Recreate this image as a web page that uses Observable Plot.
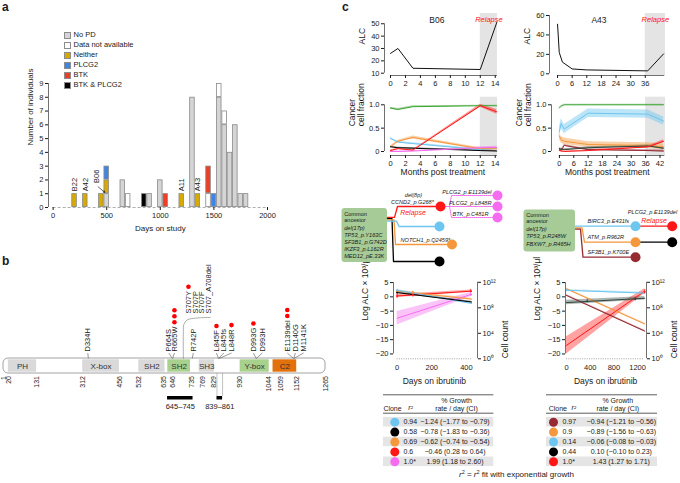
<!DOCTYPE html>
<html>
<head>
<meta charset="utf-8">
<script src="https://cdn.jsdelivr.net/npm/d3@7"></script>
<script src="https://cdn.jsdelivr.net/npm/@observablehq/plot@0.6"></script>
<style>
html,body{margin:0;padding:0;background:#fff;}
#root{position:relative;width:680px;height:483px;overflow:hidden;background:#fff;font-family:"Liberation Sans",Arial,Helvetica,sans-serif;color:#1a1a1a;}
.lab{position:absolute;font-weight:bold;font-size:12px;line-height:13px;}
.legend{position:absolute;font-size:7.5px;line-height:10px;}
.legend .row{display:flex;align-items:center;height:10px;white-space:nowrap;}
.legend .sw{display:inline-block;width:7px;height:7px;border:0.8px solid #8c8c8c;margin-right:3px;box-sizing:border-box;}
.cap{position:absolute;font-size:8px;white-space:nowrap;line-height:10px;}
.cap sup{font-size:5.5px;line-height:0;vertical-align:3px;}
</style>
</head>
<body>
<div id="root"></div>
<script>
// ======================= DATA =======================
// ---- Panel a : histogram of days on study (50-day bins) ----
const categories = ["No PD","Data not available","Neither","PLCG2","BTK","BTK & PLCG2"];
const categoryColors = ["#d5d5d5","#ffffff","#d8aa00","#3d86e8","#ee3f26","#000000"];
const noPD = [[500,1],[650,2],[900,1],[1000,2],[1300,8],[1550,8],[1600,6],[1650,4],[1700,6],[1750,1],[1800,1]];
const dataNotAvailable = [[700,1],[1450,1],[1550,1],[1600,1]];
const neither = [[200,1],[300,1],[450,1],[500,1],[1200,1],[1350,1]];
const plcg2Only = [[500,1],[1500,1]];
const btkOnly = [[1050,1],[1450,2]];
const btkAndPlcg2 = [[850,1]];
const binWidth = 50;
const daysTicks = [0,500,1000,1500,2000];
const countTicks = [0,1,2,3,4,5,6,7,8,9];
const patientNames = ["B22","A42","B06","A11","A43"];
const patientDays = [200,300,405,1200,1350];
const patientCounts = [1,1,1.6,1,1];

// ---- Panel b : PLCG2 protein ----
const proteinLength = 1265;
const domainNames = ["PH","X-box","SH2","SH2","SH3","Y-box","C2"];
const domainStarts = [20,312,532,646,769,930,1059];
const domainEnds = [131,456,635,735,829,1044,1152];
const domainKinds = ["plain","plain","plain","green","plain","green","orange"];
const boundaryTicks = [1,20,131,312,456,532,635,646,735,769,829,930,1044,1059,1152,1265];
const mutationNames = ["D334H","P664S","R665W","R742P","L845F","L845fs","L848R","D993G","D993H","E1139del","D1140G","M1141K"];
const mutationPositions = [334,664,665,742,845,845,848,993,993,1139,1140,1141];
const mutationPatients = [0,0,3,0,1,0,1,1,0,2,0,0];
const s707Names = ["S707Y","S707P","S707F","S707_A708del"];
const s707Patients = [1,0,0,0];
const regionStarts = [645,839];
const regionEnds = [745,861];

// ---- Panel c : ALC ----
const b06AlcMonths = [0,1,3,12,14.2];
const b06Alc = [26,30,14,13,51];
const a43AlcMonths = [0,0.7,2,6,12,37,43.5];
const a43Alc = [51,22,12,5,4,3,20.5];

// ---- Panel c : cancer cell fractions ----
const b06CcfMonths = [0,1,3,12,14.2];
const b06CcfClones = ["green","blue","orange","black","magenta","red"];
const b06CcfValues = [
  [0.93,0.90,0.96,0.98,0.98],
  [0.28,0.20,0.17,0.04,0.07],
  [0.10,0.22,0.30,0.06,0.06],
  [0.10,0.08,0.07,0.02,0.01],
  [0.00,0.00,0.01,0.08,0.09],
  [0.02,0.06,0.03,0.98,0.85]];
const b06CcfCI = [
  [0.02,0.02,0.02,0.01,0.01],
  [0.02,0.02,0.02,0.02,0.02],
  [0.02,0.02,0.03,0.02,0.02],
  [0.01,0.01,0.01,0.01,0.01],
  [0.01,0.01,0.01,0.02,0.02],
  [0.01,0.01,0.01,0.03,0.05]];
const a43CcfMonths = [0,0.7,2,12,37,43.5];
const a43CcfClones = ["green","blue","orange","darkred","slate","red"];
const a43CcfValues = [
  [0.93,0.97,1.00,1.00,1.00,1.00],
  [0.42,0.60,0.48,0.82,0.80,0.65],
  [0.33,0.25,0.22,0.15,0.13,0.10],
  [0.05,0.02,0.13,0.04,0.02,0.01],
  [0.06,0.05,0.04,0.08,0.12,0.07],
  [0.02,0.01,0.00,0.02,0.10,0.22]];
const a43CcfCI = [
  [0.02,0.01,0.01,0.01,0.01,0.01],
  [0.10,0.10,0.10,0.09,0.09,0.09],
  [0.07,0.07,0.07,0.06,0.06,0.06],
  [0.02,0.02,0.02,0.02,0.02,0.02],
  [0.02,0.02,0.02,0.02,0.02,0.02],
  [0.01,0.01,0.01,0.01,0.02,0.03]];

// ---- Panel c : exponential fits (log ALC) ----
const b06FitDays = [0,430];
const b06FitClones = ["magenta","red","orange","blue","black"];
const b06FitStart = [-7.5,0.3,2.0,2.3,1.5];
const b06FitEnd = [0.9,2.0,-0.8,-2.3,-1.8];
const b06FitCIStart = [2.4,0.5,0.3,0.3,0.3];
const b06FitCIEnd = [0.7,0.4,0.3,0.3,0.3];
const b06ObsClones = ["red","red","red","orange","orange","blue","black","magenta"];
const b06ObsDays = [0,91,425,0,91,0,0,425];
const b06ObsValues = [0.3,0.8,2.0,2.0,1.5,2.3,1.5,0.8];
const b06ObsErr = [0.9,0.9,0.6,0.5,0.5,0.4,0.4,0.5];
const a43FitDays = [0,1320];
const a43FitClones = ["red","darkred","orange","blue","slate"];
const a43FitStart = [-17,0.5,2.8,2.3,-2.0];
const a43FitEnd = [2.0,-12,-9.5,1.3,-0.5];
const a43FitCIStart = [3.0,0.3,0.3,0.3,0.8];
const a43FitCIEnd = [0.8,0.3,0.3,0.3,0.6];
const a43ObsClones = ["blue","slate","slate","red"];
const a43ObsDays = [0,350,1160,1320];
const a43ObsValues = [2.3,-1.5,-0.8,1.8];
const a43ObsErr = [0.4,0.6,0.6,0.8];

// ---- Panel c : tables ----
const b06TableClones = ["blue","black","orange","red","magenta"];
const b06TableR2 = ["0.94","0.58","0.69","0.6","1.0*"];
const b06TableGrowth = ["−1.24 (−1.77 to −0.79)","−0.78 (−1.83 to −0.36)","−0.62 (−0.74 to −0.54)","−0.46 (0.28 to 0.64)","1.99 (1.18 to 2.60)"];
const a43TableClones = ["darkred","orange","blue","black","red"];
const a43TableR2 = ["0.97","0.9","0.14","0.44","1.0*"];
const a43TableGrowth = ["−0.94 (−1.21 to −0.56)","−0.89 (−1.56 to −0.63)","−0.06 (−0.08 to −0.03)","0.10 (−0.10 to 0.23)","1.43 (1.27 to 1.71)"];

// ---- Panel c : phylogenies ----
const b06AncestorLines = ["Common","ancestor","del(17p)","TP53_p.Y163C","SF3B1_p.G742D","IKZF3_p.L162R","MED12_pE.33K"];
const a43AncestorLines = ["Common","ancestor","del(17p)","TP53_p.R248W","FBXW7_p.R465H"];

// ======================= STYLE / LAYOUT =======================
const FONT = '"Liberation Sans", Arial, Helvetica, sans-serif';
const COL = {blue:"#6dc6ef", black:"#000000", orange:"#f5973c", red:"#ff1616", magenta:"#f66cf0",
  green:"#3fa535", darkred:"#962a33", slate:"#2f463c"};
const AX = "#333";
const intFmt = d3.format("d");
const root = document.getElementById("root");
const baseStyle = {fontFamily: FONT, fontSize: "7.5px", background: "transparent", overflow: "visible", color: "#1a1a1a"};
function place(node, left, top){ node.style.position="absolute"; node.style.left=left+"px"; node.style.top=top+"px"; root.appendChild(node); return node; }
function htmlEl(cls, inner, left, top){ const e=document.createElement("div"); e.className=cls; e.innerHTML=inner; return place(e,left,top); }
function pagePlot(x0, y0, w, h, marks){
  const p = Plot.plot({width:w, height:h, margin:0, style:baseStyle,
    x:{domain:[x0,x0+w], range:[0,w], axis:null}, y:{domain:[y0,y0+h], range:[0,h], axis:null},
    color:{type:"identity"}, marks});
  return place(p, x0, y0);
}

// panel letters
htmlEl("lab","a",2,1); htmlEl("lab","b",2,255); htmlEl("lab","c",342,1);

// ======================= PANEL A =======================
{
  const rows = [];
  const top = new Map();
  [noPD,dataNotAvailable,neither,plcg2Only,btkOnly,btkAndPlcg2].forEach((arr,i)=>arr.forEach(([day,n])=>{
    const y1 = top.get(day)||0; rows.push({day, cat:categories[i], y1, y2:y1+n}); top.set(day,y1+n);
  }));
  const labels = patientNames.map((name,i)=>({name, day:patientDays[i], count:patientCounts[i]}));
  const xMin = -43;
  const p = Plot.plot({width:340, height:240, marginLeft:48, marginRight:73, marginTop:83, marginBottom:33,
    style:baseStyle, x:{domain:[xMin,2000]}, y:{domain:[0,9]},
    color:{domain:categories, range:categoryColors},
    marks:[
      Plot.ruleY([0],{x1:0,x2:2000,stroke:"#999",strokeDasharray:"3,2",strokeWidth:0.8}),
      Plot.rect(rows,{x1:d=>d.day-binWidth/2,x2:d=>d.day+binWidth/2,y1:"y1",y2:"y2",fill:"cat",stroke:"#8a8a8a",strokeWidth:0.8,inset:0.4}),
      Plot.ruleX([xMin],{y1:countTicks[0],y2:countTicks[countTicks.length-1],stroke:AX,strokeWidth:0.7}),
      Plot.axisY({ticks:countTicks,tickSize:3,tickPadding:2,label:null}),
      Plot.axisX({ticks:daysTicks,tickSize:3,tickPadding:2,label:null,tickFormat:intFmt}),
      Plot.text(labels,{x:"day",y:"count",text:"name",rotate:-90,textAnchor:"start",dy:-2.5,fontSize:7.5}),
      Plot.arrow([{x1:420,y1:1.5,x2:482,y2:1.1}],{x1:"x1",y1:"y1",x2:"x2",y2:"y2",stroke:"#222",strokeWidth:0.7,headLength:3.5}),
      Plot.text(["Days on study"],{x:1000,frameAnchor:"bottom",dy:23,fontSize:8}),
      Plot.text(["Number of individuals"],{frameAnchor:"left",rotate:-90,dx:-18,fontSize:8})
    ]});
  place(p,0,0);
  const leg = categories.map((c,i)=>`<div class="row"><span class="sw" style="background:${categoryColors[i]}"></span>${c}</div>`).join("");
  htmlEl("legend",leg,63.5,30);
}

// ======================= PANEL B =======================
{
  const pxPerAA = 322/1264;
  const barTop = 358, barBottom = 373;
  const kindColor = {plain:"#d9d9d9", green:"#a9d18e", orange:"#e2710c"};
  const doms = domainNames.map((name,i)=>({name,start:domainStarts[i],end:domainEnds[i],kind:domainKinds[i]}));
  const tickShiftPx = {635:-1.5,646:4.5,735:1.5,769:4,829:-1,1059:8};
  const labelAt = {D334H:332,P664S:650,R665W:672,R742P:746,L845F:837,L845fs:866,L848R:896,D993G:982,D993H:1017,
    E1139del:1115,D1140G:1147,M1141K:1179,S707Y:727,S707P:755,S707F:780,S707_A708del:806};
  const ctx = document.createElement("canvas").getContext("2d");
  ctx.font = '7.5px "Liberation Sans"';
  const muts = mutationNames.map((name,i)=>({name,pos:mutationPositions[i],n:mutationPatients[i],at:labelAt[name],base:351}));
  const s707 = s707Names.map((name,i)=>({name,pos:707,n:s707Patients[i],at:labelAt[name],base:313}));
  const dots = [];
  [...muts,...s707].forEach(m=>{ const len = ctx.measureText(m.name).width; for(let k=0;k<m.n;k++) dots.push({x:m.at,y:m.base-len-4.3-k*6}); });
  const regions = regionStarts.map((s,i)=>({start:s,end:regionEnds[i]}));
  const bracket = [[707,358],[707,331],[709,324],[722,319.5],[760,317.5],[812,317]];
  const p = Plot.plot({width:340,height:160,margin:0,style:baseStyle,
    x:{domain:[1,proteinLength],range:[3,325],axis:null}, y:{domain:[255,415],range:[0,160],axis:null},
    color:{type:"identity"},
    marks:[
      Plot.rect([proteinLength],{x1:1,x2:d=>d,y1:barTop,y2:barBottom,fill:"white",rx:5}),
      Plot.rect(doms,{x1:"start",x2:"end",y1:barTop+1.3,y2:barBottom-1.3,fill:d=>kindColor[d.kind]}),
      Plot.rect([proteinLength],{x1:1,x2:d=>d,y1:barTop,y2:barBottom,fill:"none",stroke:"#8a8a8a",strokeWidth:0.8,rx:5}),
      Plot.text(doms,{x:d=>(d.start+d.end)/2,y:(barTop+barBottom)/2,text:"name",fontSize:8,fill:"#333"}),
      Plot.text(boundaryTicks,{x:d=>d+(tickShiftPx[d]||0)/pxPerAA,y:barBottom+2.5,text:d=>String(d),rotate:-90,textAnchor:"end",fontSize:7}),
      Plot.link(muts,{x1:"pos",y1:barTop,x2:"at",y2:352.5,stroke:"#555",strokeWidth:0.6}),
      Plot.text(muts,{x:"at",y:"base",text:"name",rotate:-90,textAnchor:"start",fontSize:7.5}),
      Plot.text(s707,{x:"at",y:"base",text:"name",rotate:-90,textAnchor:"start",fontSize:7.5}),
      Plot.line(bracket,{x:d=>d[0],y:d=>d[1],stroke:"#777",strokeWidth:0.6,curve:"catmull-rom"}),
      Plot.dot(dots,{x:"x",y:"y",r:2.3,fill:"#ff0000"}),
      Plot.ruleX([regionStarts[1],regionEnds[1]],{y1:barBottom,y2:396,stroke:"#999",strokeWidth:0.6}),
      Plot.rect(regions,{x1:"start",x2:"end",y1:396,y2:399.5,fill:"black"}),
      Plot.text(regions,{x:d=>(d.start+d.end)/2,y:406.5,text:d=>`${d.start}–${d.end}`,fontSize:7.5})
    ]});
  place(p,0,255);
}

// ======================= PANEL C : time charts =======================
function axesMarks(o){
  return [
    Plot.ruleX([o.xDomain[0]],{y1:o.yTicks[0],y2:o.yTicks[o.yTicks.length-1],stroke:AX,strokeWidth:0.7}),
    Plot.ruleY([o.yDomain[0]],{x1:o.xTicks[0],x2:o.xLineEnd,stroke:AX,strokeWidth:0.7}),
    Plot.axisY({ticks:o.yTicks,tickSize:3,tickPadding:2,label:null,tickFormat:o.yFmt}),
    Plot.axisX({ticks:o.xTicks,tickSize:3,tickPadding:2,label:null,tickFormat:intFmt})
  ];
}
function alcChart(o){
  const pts = o.months.map((m,i)=>({m,v:o.values[i]}));
  const p = Plot.plot({width:170,height:100,marginLeft:o.mL,marginRight:o.mR,marginTop:13,marginBottom:25,style:baseStyle,
    x:{domain:o.xDomain}, y:{domain:o.yDomain}, color:{type:"identity"},
    marks:[
      Plot.rect([o.relapse],{x1:d=>d,x2:o.xDomain[1],fill:"#e4e4e4"}),
      Plot.line(pts,{x:"m",y:"v",stroke:"#111",strokeWidth:1}),
      ...axesMarks(o),
      Plot.text(["Relapse"],{x:(o.relapse+o.xDomain[1])/2,frameAnchor:"top",dy:3.5,fill:COL.red,fontStyle:"italic",fontSize:7.5}),
      Plot.text([o.title],{x:o.titleX,frameAnchor:"top",dy:3.5,fontSize:8.5}),
      Plot.text(["ALC"],{frameAnchor:"left",rotate:-90,dx:o.labDx,fontSize:8.5})
    ]});
  place(p,o.left,0);
}
function ccfChart(o){
  const rows = [];
  o.clones.forEach((c,s)=>o.values[s].forEach((v,i)=>rows.push({c,m:o.months[i],v,lo:v-o.ci[s][i],hi:v+o.ci[s][i]})));
  const yDomain = [-0.0857,1.163];
  const p = Plot.plot({width:170,height:95,marginLeft:o.mL,marginRight:o.mR,marginTop:11.7,marginBottom:25,style:baseStyle,
    x:{domain:o.xDomain}, y:{domain:yDomain}, color:{type:"identity"},
    marks:[
      Plot.rect([o.relapse],{x1:d=>d,x2:o.xDomain[1],fill:"#e4e4e4"}),
      Plot.areaY(rows,{x:"m",y1:"lo",y2:"hi",z:"c",fill:d=>COL[d.c],fillOpacity:0.45}),
      Plot.line(rows,{x:"m",y:"v",z:"c",stroke:d=>COL[d.c],strokeWidth:1}),
      ...axesMarks({...o,yDomain,yTicks:[0,0.5,1],yFmt:d=>d===0?"0":d.toFixed(1)}),
      Plot.text(["Months post treatment"],{x:o.labelX,frameAnchor:"bottom",dy:19.5,fontSize:8.5}),
      Plot.text(["Cancer\ncell fraction"],{frameAnchor:"left",rotate:-90,dx:o.labDx,fontSize:8.5,lineHeight:1.1})
    ]});
  place(p,o.left,85);
}
alcChart({left:340,mL:44,mR:13,xDomain:[-0.8,14.3],yDomain:[8.14,58.3],xTicks:[0,2,4,6,8,10,12,14],xLineEnd:14.3,
  yTicks:[10,20,30,40,50],relapse:12,months:b06AlcMonths,values:b06Alc,title:"B06",titleX:6.2,labDx:-22});
alcChart({left:510,mL:39,mR:15,xDomain:[-3.3,44.3],yDomain:[-1.75,62.06],xTicks:[0,6,12,18,24,30,36],xLineEnd:44,
  yTicks:[0,20,40,60],relapse:36,months:a43AlcMonths,values:a43Alc,title:"A43",titleX:17,labDx:-22});
ccfChart({left:340,mL:44,mR:13,xDomain:[-0.8,14.3],xTicks:[0,2,4,6,8,10,12,14],xLineEnd:14.3,relapse:12,
  months:b06CcfMonths,clones:b06CcfClones,values:b06CcfValues,ci:b06CcfCI,labelX:7,labDx:-28});
ccfChart({left:510,mL:41,mR:15,xDomain:[-3.3,44.3],xTicks:[0,6,12,18,24,30,36,42],xLineEnd:44,relapse:36,
  months:a43CcfMonths,clones:a43CcfClones,values:a43CcfValues,ci:a43CcfCI,labelX:20,labDx:-28});

// ======================= PANEL C : log ALC fits =======================
function logAlcChart(o){
  const yDom = [-21.7,5.1];
  const rows = o.clones.flatMap((c,i)=>[
    {c,day:o.days[0],v:o.start[i],lo:o.start[i]-o.ciS[i],hi:o.start[i]+o.ciS[i]},
    {c,day:o.days[1],v:o.end[i],lo:o.end[i]-o.ciE[i],hi:o.end[i]+o.ciE[i]}]);
  const obs = o.obsClones.map((c,i)=>({c,day:o.obsDays[i],v:o.obsValues[i],e:o.obsErr[i]}));
  const sup = {0:"⁰",4:"⁴",8:"⁸",12:"¹²"};
  const toLeft = k => yDom[0]+k/12*(yDom[1]-yDom[0]);
  const toK = v => Math.round((v-yDom[0])/(yDom[1]-yDom[0])*12);
  const p = Plot.plot({width:170,height:120,marginLeft:o.mL,marginRight:o.mR,marginTop:11.8,marginBottom:31.7,style:baseStyle,
    x:{domain:o.xDomain}, y:{domain:yDom}, color:{type:"identity"},
    marks:[
      Plot.ruleY([yDom[0]],{x1:0,x2:o.days[1],stroke:"#9a9a9a",strokeDasharray:"1,1.3",strokeWidth:0.9}),
      Plot.areaY(rows,{x:"day",y1:"lo",y2:"hi",z:"c",fill:d=>COL[d.c],fillOpacity:0.4}),
      Plot.line(rows,{x:"day",y:"v",z:"c",stroke:d=>COL[d.c],strokeWidth:1}),
      Plot.ruleX(obs,{x:"day",y1:d=>d.v-d.e,y2:d=>d.v+d.e,stroke:d=>COL[d.c],strokeWidth:0.8}),
      Plot.dot(obs,{x:"day",y:"v",r:0.9,fill:d=>COL[d.c]}),
      Plot.ruleX([o.xDomain[0]],{y1:-20,y2:5,stroke:AX,strokeWidth:0.7}),
      Plot.ruleX([o.xDomain[1]],{y1:yDom[0],y2:yDom[1],stroke:AX,strokeWidth:0.7}),
      Plot.axisY({ticks:[5,0,-5,-10,-15,-20],tickSize:3,tickPadding:2,label:null}),
      Plot.axisY([0,4,8,12].map(toLeft),{anchor:"right",tickSize:3,tickPadding:2,label:null,tickFormat:d=>"10"+sup[toK(d)]}),
      Plot.axisX({ticks:o.xTicks,tickSize:0,tickPadding:6,label:null,tickFormat:intFmt}),
      Plot.text(["Days on ibrutinib"],{x:o.labelX,frameAnchor:"bottom",dy:25,fontSize:8.5}),
      Plot.text(["Log ALC × 10³/μl"],{frameAnchor:"left",rotate:-90,dx:-28,fontSize:8.5}),
      Plot.text(["Cell count"],{frameAnchor:"right",rotate:-90,dx:28,fontSize:8.5})
    ]});
  place(p,o.left,270);
}
logAlcChart({left:340,mL:53,mR:33,xDomain:[-21,464],xTicks:[0,200,400],labelX:215,days:b06FitDays,clones:b06FitClones,
  start:b06FitStart,end:b06FitEnd,ciS:b06FitCIStart,ciE:b06FitCIEnd,
  obsClones:b06ObsClones,obsDays:b06ObsDays,obsValues:b06ObsValues,obsErr:b06ObsErr});
logAlcChart({left:510,mL:55,mR:34,xDomain:[-17,1350],xTicks:[0,400,800,1200],labelX:660,days:a43FitDays,clones:a43FitClones,
  start:a43FitStart,end:a43FitEnd,ciS:a43FitCIStart,ciE:a43FitCIEnd,
  obsClones:a43ObsClones,obsDays:a43ObsDays,obsValues:a43ObsValues,obsErr:a43ObsErr});

// ======================= PANEL C : phylogenies =======================
function ancestorBox(box, lines, lineYs){
  const rows = lines.map((t,i)=>({t,y:lineYs[i],it:i>=2}));
  return [
    Plot.rect([box],{x1:d=>d[0],x2:d=>d[1],y1:d=>d[2],y2:d=>d[3],fill:"#a6cb96",rx:3}),
    Plot.text(rows.filter(d=>!d.it),{x:box[0]+2.2,y:"y",text:"t",textAnchor:"start",fontSize:5.6}),
    Plot.text(rows.filter(d=>d.it),{x:box[0]+2.2,y:"y",text:"t",textAnchor:"start",fontSize:5.6,fontStyle:"italic"})
  ];
}
function edgeRows(paths){ return paths.flatMap((p,k)=>p.pts.map(([x,y])=>({k,x,y,c:p.c}))); }
{ // B06 tree
  const edges = edgeRows([
    {c:"red",pts:[[387,216.8],[394,216.8],[397,206],[435,206]]},
    {c:"black",pts:[[387,218.2],[391.5,218.2],[393,261],[434,261]]},
    {c:"orange",pts:[[387,219.4],[393.5,219.4],[395,244],[447,244]]},
    {c:"blue",pts:[[387,220.6],[396,220.6],[398.5,226],[434,226]]}]);
  const dotted = edgeRows([
    {c:"magenta",pts:[[445,206],[449,206],[451,195],[492,195]]},
    {c:"magenta",pts:[[445,206],[492,206]]},
    {c:"magenta",pts:[[445,206],[449,206],[451,217],[492,217]]}]);
  const nodes = [{x:440,y:206,c:"red"},{x:439,y:226,c:"blue"},{x:451.5,y:244,c:"orange"},{x:439,y:261,c:"black"},
    {x:497,y:195,c:"magenta"},{x:497,y:206,c:"magenta"},{x:497,y:217,c:"magenta"}];
  const labs = [{t:"CCND2_p.G268*",x:390.5,y:201.5,a:"start"},{t:"PLCG2_p.E1139del",x:491,y:191.3,a:"end"},
    {t:"PLCG2_p.L848R",x:491,y:202.3,a:"end"},{t:"BTK_p.C481R",x:488,y:213.3,a:"end"},{t:"NOTCH1_p.Q2459*",x:400,y:240,a:"start"}];
  pagePlot(338,186,172,80,[
    ...ancestorBox([341.5,387,208,262],b06AncestorLines,[213.6,219.3,227.6,234.7,241.8,248.8,255.8]),
    Plot.line(edges,{x:"x",y:"y",z:"k",stroke:d=>COL[d.c],strokeWidth:1.3}),
    Plot.line(dotted,{x:"x",y:"y",z:"k",stroke:COL.magenta,strokeWidth:1,strokeDasharray:"1,1"}),
    Plot.dot(nodes,{x:"x",y:"y",r:5,fill:d=>COL[d.c]}),
    Plot.text(labs.filter(d=>d.a==="start"),{x:"x",y:"y",text:"t",textAnchor:"start",fontSize:5.6,fontStyle:"italic"}),
    Plot.text(labs.filter(d=>d.a==="end"),{x:"x",y:"y",text:"t",textAnchor:"end",fontSize:5.6,fontStyle:"italic"}),
    Plot.text(["del(8p)"],{x:413,y:195,fontSize:5.6,fontStyle:"italic"}),
    Plot.text(["Relapse"],{x:412.5,y:212,fontSize:7,fontStyle:"italic",fill:COL.red})
  ]);
}
{ // A43 tree
  const edges = edgeRows([
    {c:"blue",pts:[[575,225.7],[630,225.7]]},
    {c:"red",pts:[[640,225.7],[667,225.7]]},
    {c:"orange",pts:[[575,227.3],[581.5,227.3],[584,241.7],[630,241.7]]},
    {c:"darkred",pts:[[575,228.6],[580,228.6],[582.5,256.7],[630,256.7]]},
    {c:"black",pts:[[640,241.7],[667,241.7]]}]);
  const nodes = [{x:635,y:225.7,c:"blue"},{x:671.7,y:225.7,c:"red"},{x:635,y:241.7,c:"orange"},
    {x:671.7,y:241.7,c:"black"},{x:635,y:256.7,c:"darkred"}];
  const labs = [{t:"BIRC3_p.E431fs",x:587,y:221},{t:"ATM_p.R962R",x:587,y:237},{t:"SF3B1_p.K700E",x:587,y:252}];
  pagePlot(520,204,160,60,[
    ...ancestorBox([523.5,575,209.5,251.5],a43AncestorLines,[215,220.7,228.5,236,243.5]),
    Plot.line(edges,{x:"x",y:"y",z:"k",stroke:d=>COL[d.c],strokeWidth:1.3}),
    Plot.dot(nodes,{x:"x",y:"y",r:5,fill:d=>COL[d.c]}),
    Plot.text(labs,{x:"x",y:"y",text:"t",textAnchor:"start",fontSize:5.6,fontStyle:"italic"}),
    Plot.text(["PLCG2_p.E1139del"],{x:652,y:211.8,fontSize:5.6,fontStyle:"italic"}),
    Plot.text(["Relapse"],{x:653.5,y:219.8,fontSize:7,fontStyle:"italic",fill:COL.red})
  ]);
}

// ======================= PANEL C : tables =======================
function cloneTable(o, clones, r2, growth){
  const rows = clones.map((c,i)=>({c,r2:r2[i],g:growth[i],y:421.7+i*9.9,i}));
  pagePlot(o.x0-3,388,o.x1-o.x0+6,82,[
    Plot.rect(rows.filter(d=>d.i%2===0),{x1:o.x0,x2:o.x1,y1:d=>d.y-4.8,y2:d=>d.y+4.8,fill:"#e5e5e5"}),
    Plot.ruleY([394.3,412.7],{x1:o.x0,x2:o.x1,stroke:"#333",strokeWidth:0.8}),
    Plot.dot(rows,{x:o.circleX,y:"y",r:4.5,fill:d=>COL[d.c]}),
    Plot.text(rows,{x:o.r2X,y:"y",text:"r2",textAnchor:"start",fontSize:7}),
    Plot.text(rows,{x:o.growthX,y:"y",text:"g",fontSize:7}),
    Plot.text(["Clone"],{x:o.cloneHX,y:408.2,fontSize:7}),
    Plot.text(["r²"],{x:o.r2HX,y:407.6,fontSize:7,fontStyle:"italic"}),
    Plot.text(["% Growth","rate / day (CI)"],{x:o.growthHX,y:(d,i)=>i?408.2:400,fontSize:7})
  ]);
}
cloneTable({x0:383,x1:493.3,circleX:394.3,r2X:403,growthX:454.5,cloneHX:392,r2HX:410,growthHX:456},
  b06TableClones,b06TableR2,b06TableGrowth);
cloneTable({x0:545.7,x1:656.7,circleX:552.7,r2X:561.7,growthX:620.5,cloneHX:557,r2HX:573,growthHX:617},
  a43TableClones,a43TableR2,a43TableGrowth);
htmlEl("cap",'<i>r</i><sup>2</sup> = <i>r</i><sup>2</sup> fit with exponential growth',459,470);
</script>
</body>
</html>
